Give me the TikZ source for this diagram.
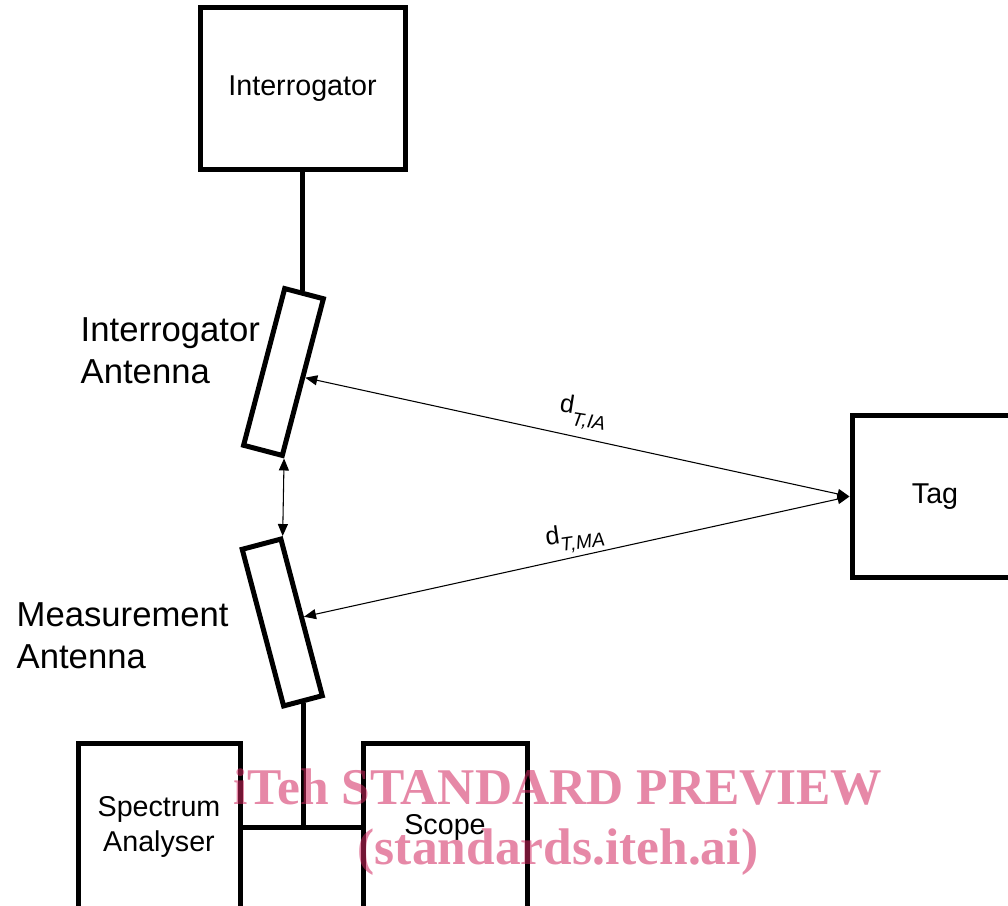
\documentclass[tikz,border=0pt]{standalone}
\usepackage{fontspec}
\setmainfont{Liberation Sans}
\newfontfamily\wmfont{Liberation Serif}
\usetikzlibrary{arrows.meta}
\definecolor{wmpink}{RGB}{210,40,95}

\begin{document}
\begin{tikzpicture}[x=0.75pt, y=-0.75pt,
    box/.style={draw, line width=3.75pt, inner sep=0pt, align=center, font=\fontsize{21.5}{26}\selectfont},
    antenna/.style={draw, line width=3.75pt, inner sep=0pt, minimum width=30pt, minimum height=121.5pt},
    lab/.style={anchor=west, align=left, font=\fontsize{26}{31.5}\selectfont},
    dlab/.style={inner sep=1pt, font=\fontsize{19}{21}\selectfont},
    link/.style={<->, >={Triangle[length=9pt, width=7.5pt]}, line width=0.8pt}]

    % Page size, matching the reference
    \fill[white] (0,0) rectangle (1008,906);
    \clip (0,0) rectangle (1008,906);

    % Interrogator and its antenna
    \node[box, minimum width=153.75pt, minimum height=121.5pt] (interr) at (302.5,89) {Interrogator};
    \node[antenna, rotate=-14.7] (ia) at (283.5,372) {};
    \draw[line width=3.75pt] (interr.south) -- (interr.south |- ia.north);
    \node[lab] (ialab) at (76,351) {Interrogator\\Antenna};

    % Measurement antenna
    \node[antenna, rotate=14.8] (ma) at (282.25,622.5) {};
    \node[lab] (malab) at (12,636) {Measurement\\Antenna};

    % Tag
    \node[box, minimum width=124.5pt, minimum height=122pt] (tag) at (935,496.5) {Tag};

    % Distances
    \draw[link] (ia.east) -- (tag.west);
    \draw[link] (ma.east) -- (tag.west);
    \draw[link] (ia.south east) -- (ma.north east);
    \node[dlab, rotate=-9] (dia) at (583,413) {d\raisebox{-9pt}{\fontsize{14.5}{15}\selectfont\itshape T,IA}};
    \node[dlab, rotate=8] (dma) at (575,538) {d\raisebox{-6pt}{\fontsize{14.5}{15}\selectfont\itshape T,MA}};

    % Spectrum analyser and scope
    \node[box, minimum width=121.5pt, minimum height=126pt] (sa) at (159,827) {Spectrum\\Analyser};
    \node[box, minimum width=123pt, minimum height=126pt] (sc) at (445,827) {Scope};
    \draw[line width=3.75pt] (sa.east) -- (sc.west);
    \draw[line width=3.75pt] (ma.south) -- (ma.south |- sa.east);

    % Watermark
    \node[text=wmpink, text opacity=0.55, align=center, font=\wmfont\bfseries\fontsize{38.6}{45}\selectfont] (wm) at (558,822) {iTeh STANDARD PREVIEW\\(standards.iteh.ai)};

\end{tikzpicture}
\end{document}
